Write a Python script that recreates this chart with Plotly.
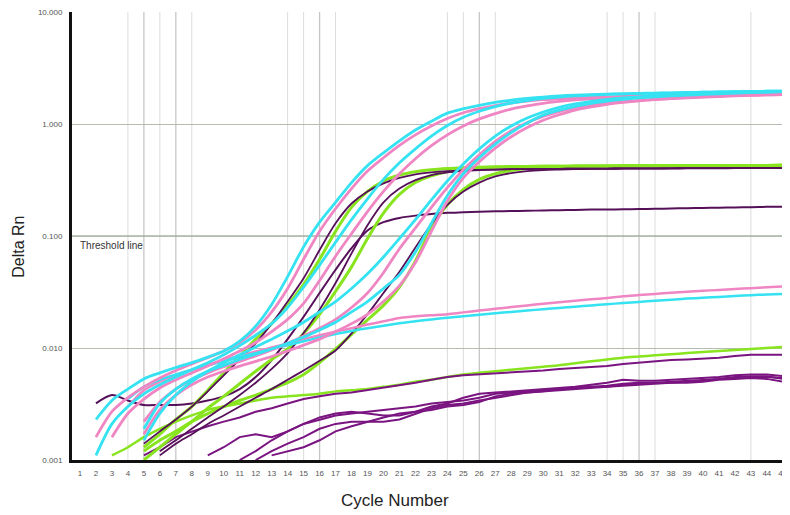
import plotly.graph_objects as go

# ---------------- data (Delta Rn per cycle; each series starts at its *_start cycle) ----------------
cycles = list(range(1, 46))
cycle_labels = [str(c) for c in cycles]
y_tick_values = [0.001, 0.01, 0.1, 1, 10]
y_tick_labels = ["0.001", "0.010", "0.100", "1.000", "10.000"]
threshold = 0.1
vline_light = [4, 6, 8, 14, 15, 17, 24, 25, 27, 34, 35, 37, 43]
vline_dark = [5, 7, 16, 26, 36]

cyan_a_start = 2
cyan_a = [0.0023, 0.0034, 0.0043, 0.0053, 0.0060, 0.0067, 0.0074, 0.0083, 0.0094, 0.0115, 0.0157, 0.0245,
          0.0434, 0.080, 0.133, 0.200, 0.300, 0.425, 0.553, 0.708, 0.885, 1.06, 1.25, 1.37, 1.47, 1.56, 1.63,
          1.69, 1.74, 1.78, 1.81, 1.83, 1.85, 1.86, 1.87, 1.88, 1.89, 1.90, 1.92, 1.93, 1.94, 1.95, 1.96, 1.97]
cyan_b_start = 2
cyan_b = [0.0011, 0.0021, 0.0030, 0.0039, 0.0047, 0.0055, 0.0064, 0.0074, 0.0087, 0.0105, 0.013, 0.0165,
          0.023, 0.035, 0.055, 0.088, 0.14, 0.215, 0.32, 0.45, 0.60, 0.78, 0.97, 1.15, 1.30, 1.43, 1.54, 1.62,
          1.69, 1.74, 1.78, 1.81, 1.84, 1.86, 1.88, 1.89, 1.90, 1.91, 1.92, 1.93, 1.94, 1.95, 1.96, 1.96]
cyan_c_start = 5
cyan_c = [0.0015, 0.0026, 0.0038, 0.005, 0.0062, 0.0074, 0.0087, 0.0102, 0.012, 0.0142, 0.017, 0.021, 0.026,
          0.034, 0.046, 0.065, 0.095, 0.14, 0.21, 0.31, 0.44, 0.60, 0.78, 0.96, 1.13, 1.28, 1.41, 1.51, 1.59,
          1.66, 1.71, 1.75, 1.79, 1.82, 1.84, 1.86, 1.88, 1.90, 1.92, 1.93, 1.95]
cyan_d_start = 5
cyan_d = [0.0019, 0.0032, 0.0043, 0.0053, 0.0062, 0.007, 0.0079, 0.0088, 0.0098, 0.011, 0.0125, 0.0145, 0.017,
          0.021, 0.026, 0.034, 0.045, 0.072, 0.13, 0.23, 0.36, 0.50, 0.66, 0.84, 1.02, 1.2, 1.33, 1.44, 1.53,
          1.6, 1.66, 1.71, 1.75, 1.78, 1.81, 1.84, 1.86, 1.89, 1.91, 1.93, 1.95]
cyan_e_start = 4
cyan_e = [0.0035, 0.0045, 0.0052, 0.0058, 0.0064, 0.007, 0.0076, 0.0083, 0.009, 0.0098, 0.0106, 0.0115, 0.0124,
          0.0133, 0.0142, 0.015, 0.0158, 0.0166, 0.0173, 0.018, 0.0186, 0.0192, 0.0198, 0.0204, 0.021, 0.0216,
          0.0222, 0.0228, 0.0234, 0.024, 0.0246, 0.0252, 0.0258, 0.0264, 0.027, 0.0276, 0.0281, 0.0286, 0.0291,
          0.0296, 0.03, 0.0303]

pink_a_start = 2
pink_a = [0.0016, 0.0027, 0.0036, 0.0045, 0.0054, 0.0063, 0.0072, 0.0082, 0.0094, 0.0112, 0.0145, 0.021, 0.034,
          0.062, 0.11, 0.175, 0.265, 0.38, 0.50, 0.645, 0.80, 0.96, 1.12, 1.26, 1.37, 1.46, 1.54, 1.60, 1.65,
          1.68, 1.71, 1.73, 1.75, 1.76, 1.77, 1.78, 1.79, 1.80, 1.81, 1.82, 1.83, 1.84, 1.85, 1.85]
pink_b_start = 3
pink_b = [0.0016, 0.0026, 0.0035, 0.0044, 0.0052, 0.006, 0.0069, 0.008, 0.0094, 0.0112, 0.014, 0.018, 0.025,
          0.04, 0.066, 0.105, 0.165, 0.25, 0.36, 0.49, 0.64, 0.80, 0.96, 1.11, 1.24, 1.36, 1.45, 1.53, 1.59,
          1.64, 1.68, 1.71, 1.73, 1.75, 1.76, 1.77, 1.78, 1.79, 1.8, 1.81, 1.82, 1.83, 1.84]
pink_c_start = 5
pink_c = [0.0022, 0.0033, 0.0043, 0.0052, 0.006, 0.0068, 0.0076, 0.0085, 0.0096, 0.011, 0.0128, 0.015, 0.018,
          0.023, 0.031, 0.047, 0.077, 0.118, 0.18, 0.27, 0.39, 0.53, 0.70, 0.87, 1.03, 1.17, 1.29, 1.39, 1.47,
          1.53, 1.58, 1.62, 1.66, 1.69, 1.71, 1.74, 1.76, 1.78, 1.8, 1.82, 1.83]
pink_d_start = 5
pink_d = [0.0017, 0.0028, 0.0038, 0.0047, 0.0055, 0.0062, 0.0069, 0.0076, 0.0084, 0.0094, 0.0106, 0.012, 0.014,
          0.0165, 0.02, 0.026, 0.036, 0.058, 0.11, 0.205, 0.33, 0.46, 0.61, 0.77, 0.93, 1.08, 1.21, 1.33, 1.42,
          1.5, 1.56, 1.61, 1.65, 1.69, 1.72, 1.75, 1.77, 1.79, 1.81, 1.82, 1.83]
pink_e_start = 4
pink_e = [0.003, 0.0042, 0.005, 0.0057, 0.0064, 0.0071, 0.0078, 0.0085, 0.0093, 0.0101, 0.011, 0.012, 0.013,
          0.014, 0.015, 0.0162, 0.0173, 0.0185, 0.0192, 0.0196, 0.020, 0.0208, 0.0216, 0.0224, 0.0232, 0.024,
          0.0248, 0.0256, 0.0264, 0.0272, 0.028, 0.029, 0.0297, 0.0304, 0.0311, 0.0318, 0.0324, 0.033, 0.0336,
          0.0342, 0.0348, 0.0355]

green_a_start = 5
green_a = [0.0013, 0.0017, 0.0023, 0.003, 0.0042, 0.006, 0.0085, 0.012, 0.0165, 0.024, 0.037, 0.062, 0.11,
           0.18, 0.25, 0.31, 0.35, 0.375, 0.39, 0.40, 0.407, 0.412, 0.415, 0.417, 0.418, 0.42, 0.42, 0.421,
           0.421, 0.422, 0.423, 0.423, 0.424, 0.424, 0.425, 0.425, 0.426, 0.426, 0.427, 0.427, 0.428]
green_b_start = 5
green_b = [0.001, 0.0013, 0.0017, 0.0022, 0.0029, 0.0037, 0.0048, 0.0062, 0.0079, 0.0098, 0.0135, 0.02, 0.032,
           0.053, 0.095, 0.16, 0.235, 0.3, 0.345, 0.375, 0.393, 0.403, 0.41, 0.414, 0.417, 0.419, 0.42, 0.421,
           0.421, 0.422, 0.423, 0.423, 0.424, 0.424, 0.425, 0.425, 0.426, 0.426, 0.427, 0.427, 0.428]
green_c_start = 5
green_c = [0.0012, 0.0015, 0.0018, 0.0022, 0.0026, 0.003, 0.0034, 0.0038, 0.0043, 0.0049, 0.0058, 0.0074,
           0.0098, 0.0132, 0.0178, 0.024, 0.035, 0.06, 0.118, 0.19, 0.26, 0.32, 0.36, 0.385, 0.4, 0.41, 0.415,
           0.418, 0.42, 0.421, 0.422, 0.423, 0.424, 0.424, 0.425, 0.425, 0.426, 0.426, 0.427, 0.427, 0.428]
green_e_start = 3
green_e = [0.0011, 0.0013, 0.0016, 0.0019, 0.0022, 0.0025, 0.0028, 0.003, 0.0032, 0.0034, 0.0036, 0.0037,
           0.0038, 0.0039, 0.0041, 0.0042, 0.0043, 0.0045, 0.0047, 0.005, 0.0052, 0.0055, 0.0058, 0.006, 0.0062,
           0.0064, 0.0066, 0.0068, 0.007, 0.0073, 0.0076, 0.0079, 0.0082, 0.0084, 0.0086, 0.0088, 0.009, 0.0092,
           0.0094, 0.0096, 0.0098, 0.01, 0.0102]

purple_a_start = 5
purple_a = [0.0014, 0.0018, 0.0023, 0.003, 0.0041, 0.0057, 0.0079, 0.011, 0.0165, 0.026, 0.042, 0.075, 0.13,
            0.195, 0.25, 0.295, 0.33, 0.355, 0.37, 0.38, 0.386, 0.39, 0.392, 0.395, 0.396, 0.398, 0.398, 0.399,
            0.399, 0.4, 0.401, 0.401, 0.402, 0.402, 0.403, 0.403, 0.404, 0.404, 0.405, 0.405, 0.405]
purple_b_start = 6
purple_b = [0.0012, 0.0015, 0.0019, 0.0024, 0.003, 0.0038, 0.0049, 0.0065, 0.009, 0.0136, 0.022, 0.038, 0.07,
            0.125, 0.2, 0.265, 0.315, 0.35, 0.37, 0.38, 0.387, 0.392, 0.395, 0.396, 0.398, 0.398, 0.399, 0.399,
            0.4, 0.401, 0.401, 0.402, 0.402, 0.403, 0.403, 0.404, 0.404, 0.405, 0.405, 0.405]
purple_c_start = 6
purple_c = [0.0011, 0.0014, 0.0017, 0.0021, 0.0025, 0.003, 0.0036, 0.0043, 0.0052, 0.0063, 0.0077, 0.0095,
            0.0135, 0.02, 0.031, 0.048, 0.079, 0.128, 0.19, 0.25, 0.3, 0.34, 0.365, 0.38, 0.388, 0.392, 0.395,
            0.397, 0.398, 0.399, 0.4, 0.4, 0.401, 0.401, 0.402, 0.402, 0.403, 0.403, 0.404, 0.404]
purple_f_start = 2
purple_f = [0.0032, 0.0038, 0.0034, 0.0031, 0.0031, 0.0031, 0.0032, 0.0034, 0.0037, 0.0043, 0.0055, 0.0078,
            0.012, 0.019, 0.031, 0.05, 0.078, 0.112, 0.133, 0.145, 0.152, 0.157, 0.161, 0.163, 0.165, 0.166,
            0.167, 0.168, 0.169, 0.17, 0.171, 0.172, 0.172, 0.173, 0.174, 0.175, 0.176, 0.177, 0.178, 0.179,
            0.18, 0.181, 0.182, 0.182]
purple_m_start = 5
purple_m = [0.0011, 0.0013, 0.0016, 0.0018, 0.002, 0.0022, 0.0024, 0.0027, 0.0029, 0.0032, 0.0035, 0.0037,
            0.0039, 0.004, 0.0042, 0.0044, 0.0046, 0.0049, 0.0052, 0.0055, 0.0057, 0.0058, 0.0059, 0.006, 0.0061,
            0.0063, 0.0065, 0.0066, 0.0067, 0.0069, 0.0072, 0.0074, 0.0076, 0.0078, 0.0079, 0.008, 0.0082,
            0.0085, 0.0087, 0.0087, 0.0087]
purple_l1_start = 9
purple_l1 = [0.0011, 0.0013, 0.0016, 0.0017, 0.0016, 0.0018, 0.0021, 0.0023, 0.0025, 0.0026, 0.0027, 0.0028,
             0.0029, 0.003, 0.0032, 0.0033, 0.0034, 0.0036, 0.0039, 0.004, 0.0041, 0.0042, 0.0043, 0.0044,
             0.0045, 0.0046, 0.0048, 0.0049, 0.0049, 0.005, 0.0051, 0.0052, 0.0053, 0.0055, 0.0056, 0.0056,
             0.0053]
purple_l2_start = 11
purple_l2 = [0.001, 0.0012, 0.0015, 0.0018, 0.0021, 0.0024, 0.0026, 0.0027, 0.0026, 0.0025, 0.0025, 0.0027,
             0.003, 0.0032, 0.0036, 0.0039, 0.004, 0.0041, 0.0042, 0.0043, 0.0044, 0.0045, 0.0047, 0.0049,
             0.0052, 0.0051, 0.0051, 0.0052, 0.0053, 0.0054, 0.0055, 0.0057, 0.0058, 0.0058, 0.0056]
purple_l3_start = 12
purple_l3 = [0.001, 0.0012, 0.0014, 0.0016, 0.0019, 0.0021, 0.0022, 0.0022, 0.0022, 0.0023, 0.0026, 0.0029,
             0.0031, 0.0032, 0.0034, 0.0036, 0.0038, 0.004, 0.0041, 0.0043, 0.0044, 0.0045, 0.0045, 0.0046,
             0.0047, 0.0048, 0.0049, 0.005, 0.0051, 0.0053, 0.0054, 0.0055, 0.0055, 0.0054]
purple_l4_start = 13
purple_l4 = [0.0011, 0.0012, 0.0013, 0.0015, 0.0018, 0.002, 0.0022, 0.0024, 0.0026, 0.0027, 0.0028, 0.003,
             0.0031, 0.0033, 0.0037, 0.0039, 0.004, 0.0041, 0.0042, 0.0043, 0.0044, 0.0045, 0.0047, 0.0048,
             0.0049, 0.0049, 0.0049, 0.005, 0.0052, 0.0053, 0.0054, 0.0053, 0.005]

# ---------------- styling ----------------
CYAN = "#35E2F2"
PINK = "#EF86C3"
GREEN = "#88E41E"
PURPLE = "#7A1480"
DARK_PURPLE = "#56105A"

fig = go.Figure()


def add(start, vals, color, width, smooth=True):
    xs = list(range(start, start + len(vals)))
    fig.add_trace(go.Scatter(
        x=xs, y=vals, mode="lines",
        line=dict(color=color, width=width, shape="spline" if smooth else "linear", smoothing=0.8),
        hoverinfo="skip", showlegend=False))


# low / non-amplifying purple traces
for s, v in [(purple_l1_start, purple_l1), (purple_l2_start, purple_l2),
             (purple_l3_start, purple_l3), (purple_l4_start, purple_l4)]:
    add(s, v, PURPLE, 2, smooth=False)
add(green_e_start, green_e, GREEN, 2.5)
add(purple_m_start, purple_m, PURPLE, 2, smooth=False)
add(purple_f_start, purple_f, DARK_PURPLE, 2)

# green / purple sigmoids
for s, v in [(green_a_start, green_a), (green_b_start, green_b), (green_c_start, green_c)]:
    add(s, v, GREEN, 3)
for s, v in [(purple_a_start, purple_a), (purple_b_start, purple_b), (purple_c_start, purple_c)]:
    add(s, v, DARK_PURPLE, 1.8)

# flat pink / cyan
add(pink_e_start, pink_e, PINK, 2.5)
add(cyan_e_start, cyan_e, CYAN, 2.5)

# pink / cyan sigmoids
for s, v in [(pink_a_start, pink_a), (pink_b_start, pink_b), (pink_c_start, pink_c), (pink_d_start, pink_d)]:
    add(s, v, PINK, 2.8)
for s, v in [(cyan_a_start, cyan_a), (cyan_b_start, cyan_b), (cyan_c_start, cyan_c), (cyan_d_start, cyan_d)]:
    add(s, v, CYAN, 2.8)

shapes = []
for c in vline_light:
    shapes.append(dict(type="line", xref="x", yref="paper", x0=c, x1=c, y0=0, y1=1,
                       line=dict(color="#dcdcdc", width=1), layer="below"))
for c in vline_dark:
    shapes.append(dict(type="line", xref="x", yref="paper", x0=c, x1=c, y0=0, y1=1,
                       line=dict(color="#c6c6c6", width=1.3), layer="below"))
shapes.append(dict(type="line", xref="paper", yref="y", x0=0, x1=1, y0=threshold, y1=threshold,
                   line=dict(color="#7f9472", width=1.2), layer="below"))

# the page body adds an 8px offset, so the figure is sized to fit the 790x515 window
fig.update_layout(
    width=782, height=507,
    margin=dict(l=64, r=0, t=4, b=55),
    paper_bgcolor="white", plot_bgcolor="white",
    font=dict(family="Liberation Sans, Arial, sans-serif", color="#222"),
    shapes=shapes,
    xaxis=dict(range=[0.5, 45.45], tickmode="array", tickvals=cycles, ticktext=cycle_labels,
               tickfont=dict(size=8, color="#555"), showgrid=False, zeroline=False,
               showline=True, linecolor="#111", linewidth=3, ticks="", automargin=False,
               ticklabelstandoff=3, ticklabeloverflow="allow"),
    yaxis=dict(type="log", range=[-3, 1], tickmode="array", tickvals=y_tick_values,
               ticktext=y_tick_labels, tickfont=dict(size=8, color="#555"),
               showgrid=True, gridcolor="#b4bbb0", gridwidth=1, zeroline=False,
               showline=True, linecolor="#111", linewidth=3, ticks="", automargin=False,
               ticklabelstandoff=5, ticklabeloverflow="allow"),
    annotations=[
        dict(text="Delta Rn", xref="paper", yref="paper", x=0, y=0.476, xshift=-53,
             textangle=-90, showarrow=False, font=dict(size=16, color="#222"),
             xanchor="center", yanchor="middle"),
        dict(text="Cycle Number", xref="paper", yref="paper", x=0.45, y=0, yshift=-40,
             showarrow=False, font=dict(size=17, color="#222"), xanchor="center", yanchor="middle"),
        dict(text="Threshold line", xref="paper", yref="y", x=0, y=-1, xshift=6, yshift=-9,
             showarrow=False, font=dict(size=10, color="#333"), xanchor="left", yanchor="middle"),
    ],
)

fig.write_html("out.html")
